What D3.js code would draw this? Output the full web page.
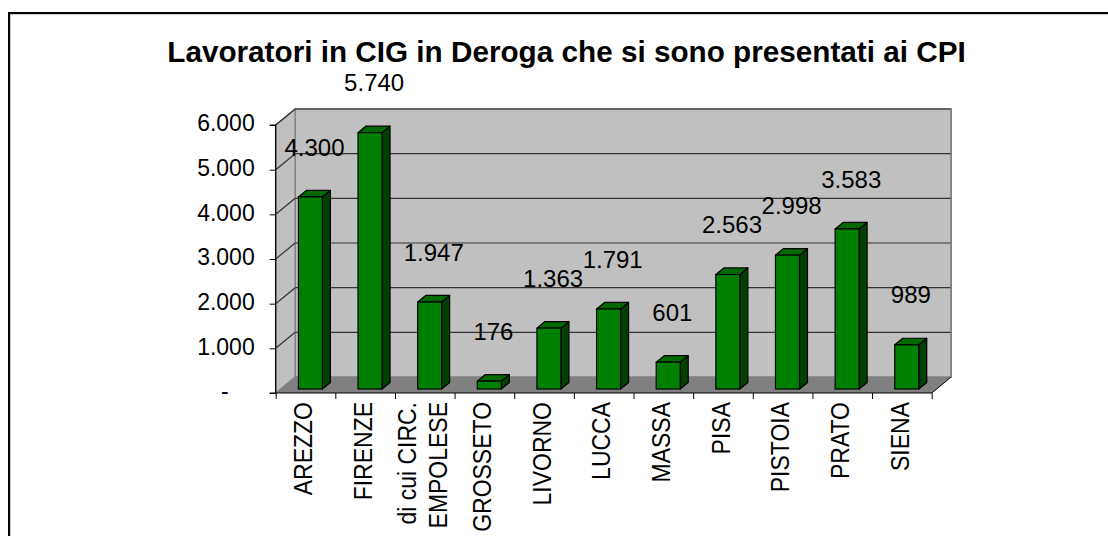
<!DOCTYPE html>
<html>
<head>
<meta charset="utf-8">
<script src="https://cdn.jsdelivr.net/npm/d3@7"></script>
<style>
  html, body { margin: 0; padding: 0; background: #fff; }
  svg { display: block; }
  text { font-family: "Liberation Sans", Arial, sans-serif; fill: #000; }
</style>
</head>
<body>
<svg id="chart" width="1108" height="536"></svg>
<script>
const title = "Lavoratori in CIG in Deroga che si sono presentati ai CPI";
const categories = ["AREZZO", "FIRENZE", "di cui CIRC.\nEMPOLESE", "GROSSETO", "LIVORNO", "LUCCA", "MASSA", "PISA", "PISTOIA", "PRATO", "SIENA"];
const values = [4300, 5740, 1947, 176, 1363, 1791, 601, 2563, 2998, 3583, 989];
const tickValues = [0, 1000, 2000, 3000, 4000, 5000, 6000];
const tickLabels = ["-", "1.000", "2.000", "3.000", "4.000", "5.000", "6.000"];

const itLocale = d3.formatLocale({decimal: ",", thousands: ".", grouping: [3], currency: ["€", ""]});
const fmt = itLocale.format(",d");

const svg = d3.select("#chart");

// geometry
const X0 = 275.7, X1 = 931.7, YB = 393, YT = 125;
const DX = 19.5, DY = -16;           // depth vector of the 3D box
const BF = 0.25, BD = 0.41;          // bar front offset / bar depth fractions
const BAR_W = 24;

const x = d3.scaleBand().domain(categories).range([X0, X1]).padding(0);
const y = d3.scaleLinear().domain([0, 6000]).range([YB, YT]);
const xi = d3.scaleLinear().domain([0, categories.length]).range([X0, X1]);

// outer frame
svg.append("rect").attr("x", 10).attr("y", 14).attr("width", 1120).attr("height", 560)
  .attr("fill", "none").attr("stroke", "#999").attr("stroke-width", 1);
svg.append("rect").attr("x", 9).attr("y", 13).attr("width", 1120).attr("height", 560)
  .attr("fill", "none").attr("stroke", "#000").attr("stroke-width", 2);

// title
svg.append("text").attr("x", 566.5).attr("y", 62).attr("text-anchor", "middle")
  .attr("font-size", 29.7).attr("font-weight", "bold").text(title);

const pts = a => a.map(p => p.join(",")).join(" ");

// back wall
const yMin = y(0), yMax = y(6000);
svg.append("polygon").attr("points", pts([[X0 + DX, yMax + DY], [X1 + DX, yMax + DY], [X1 + DX, yMin + DY], [X0 + DX, yMin + DY]]))
  .attr("fill", "#c0c0c0").attr("stroke", "#808080").attr("stroke-width", 1.5);
// side wall
svg.append("polygon").attr("points", pts([[X0, yMin], [X0 + DX, yMin + DY], [X0 + DX, yMax + DY], [X0, yMax]]))
  .attr("fill", "#c0c0c0").attr("stroke", "#808080").attr("stroke-width", 1.5);
// floor
svg.append("polygon").attr("points", pts([[X0, yMin], [X1, yMin], [X1 + DX, yMin + DY], [X0 + DX, yMin + DY]]))
  .attr("fill", "#808080").attr("stroke", "none");
svg.append("line").attr("x1", X1).attr("y1", yMin).attr("x2", X1 + DX).attr("y2", yMin + DY)
  .attr("stroke", "#000").attr("stroke-width", 1);

// gridlines (back + side)
const grid = svg.append("g");
tickValues.filter(v => v > 0).forEach(v => {
  grid.append("line").attr("x1", X0 + DX).attr("x2", X1 + DX).attr("y1", y(v) + DY).attr("y2", y(v) + DY)
    .attr("stroke", "#333").attr("stroke-width", 1.2);
  grid.append("line").attr("x1", X0).attr("x2", X0 + DX).attr("y1", y(v)).attr("y2", y(v) + DY)
    .attr("stroke", "#333").attr("stroke-width", 1.2);
});
svg.append("line").attr("x1", X1 + DX).attr("x2", X1 + DX).attr("y1", yMax + DY).attr("y2", yMin + DY)
  .attr("stroke", "#808080").attr("stroke-width", 1.5);

// bars
const bars = svg.append("g");
categories.forEach((c, i) => {
  const v = values[i];
  const cx = x(c) + x.bandwidth() / 2;
  const left = cx - BAR_W / 2 + BF * DX, right = left + BAR_W;
  const bottom = y(0) + BF * DY, top = y(v) + BF * DY;
  const ddx = BD * DX, ddy = BD * DY;
  bars.append("polygon").attr("points", pts([[right, top], [right + ddx, top + ddy], [right + ddx, bottom + ddy], [right, bottom]]))
    .attr("fill", "#004000").attr("stroke", "#000").attr("stroke-width", 1.2).attr("stroke-linejoin", "round");
  bars.append("polygon").attr("points", pts([[left, top], [right, top], [right + ddx, top + ddy], [left + ddx, top + ddy]]))
    .attr("fill", "#006a00").attr("stroke", "#000").attr("stroke-width", 1.2).attr("stroke-linejoin", "round");
  bars.append("rect").attr("x", left).attr("y", top).attr("width", BAR_W).attr("height", bottom - top)
    .attr("fill", "#008000").attr("stroke", "#000").attr("stroke-width", 1.2);
});

// y axis
const yAxis = d3.axisLeft(y).tickValues(tickValues).tickSize(6).tickPadding(4)
  .tickFormat((d, i) => tickLabels[i]);
const gy = svg.append("g").attr("transform", `translate(${X0},0)`).call(yAxis);
gy.select(".domain").attr("stroke", "#000").attr("stroke-width", 1.2).attr("d", `M-6,${YT}H0V${YB}H-6`);
gy.selectAll(".tick line").attr("stroke", "#000");
gy.selectAll(".tick text").attr("font-size", 23).attr("font-family", "Liberation Sans, Arial, sans-serif")
  .attr("fill", "#000").attr("dy", "0.25em")
  .attr("x", d => d === 0 ? -47 : -21);

// x axis (ticks at category boundaries)
const xAxis = d3.axisBottom(xi).tickValues(d3.range(categories.length + 1))
  .tickSize(6).tickFormat("");
const gx = svg.append("g").attr("transform", `translate(0,${YB})`).call(xAxis);
gx.select(".domain").attr("stroke", "#000").attr("stroke-width", 1.2).attr("d", `M${X0},0H${X1}`);
gx.selectAll(".tick line").attr("stroke", "#000");

// category labels (rotated)
categories.forEach(c => {
  const lines = c.split("\n");
  const cx = x(c) + x.bandwidth() / 2 - 2.5;
  const g = svg.append("g").attr("transform", `translate(${cx},402) scale(1.1,1) rotate(-90)`);
  lines.forEach((ln, j) => {
    g.append("text").attr("x", 0).attr("y", (j - (lines.length - 1) / 2) * 27.5)
      .attr("dy", "0.36em").attr("text-anchor", "end").attr("font-size", 23).text(ln);
  });
});

// value labels
const labels = svg.append("g");
categories.forEach((c, i) => {
  const v = values[i];
  const cx = x(c) + x.bandwidth() / 2;
  labels.append("text").attr("x", cx + 9).attr("y", y(v) + BF * DY - 50)
    .attr("dy", "0.36em").attr("text-anchor", "middle").attr("font-size", 24).text(fmt(v));
});
</script>
</body>
</html>
